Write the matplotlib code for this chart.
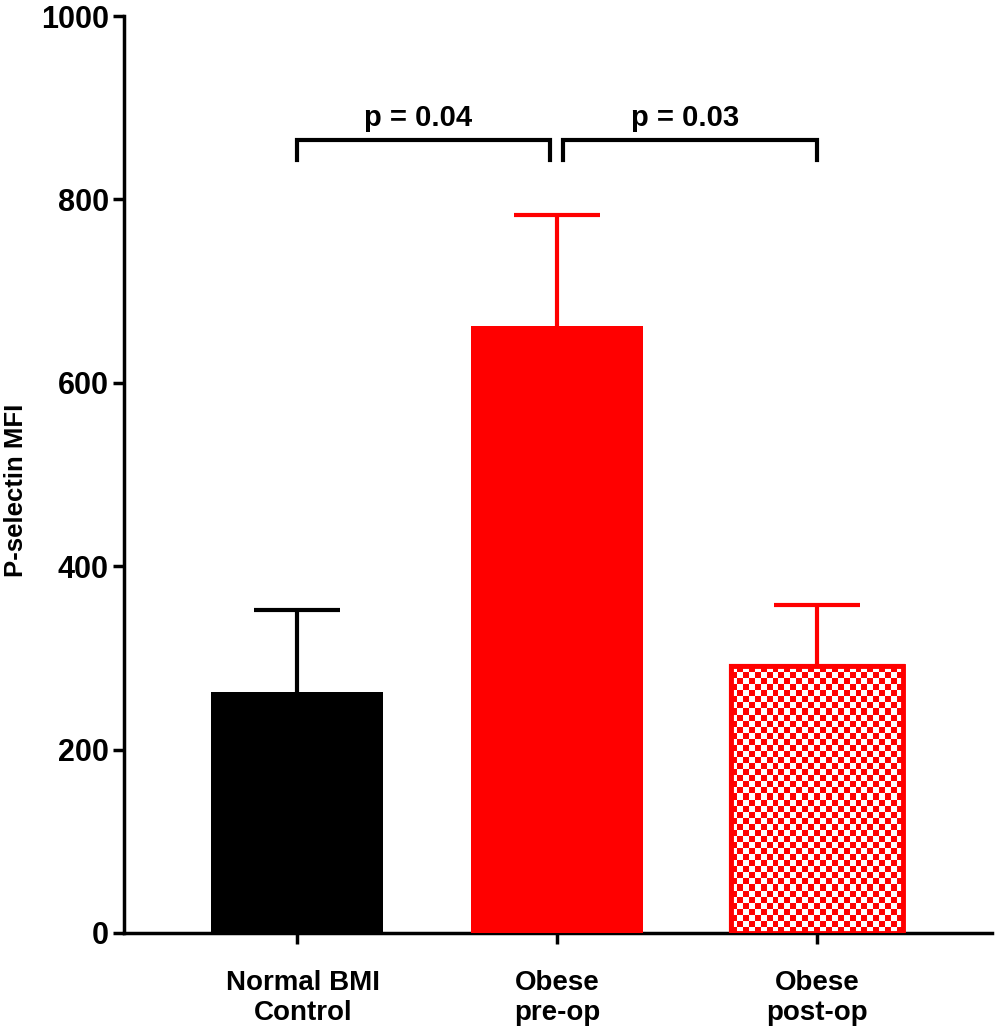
import numpy as np
import matplotlib
matplotlib.use("Agg")
import matplotlib.pyplot as plt
import matplotlib.transforms as mtransforms
from matplotlib.colors import ListedColormap

categories = ["Normal BMI\nControl", "Obese\npre-op", "Obese\npost-op"]
means = [263, 662, 291]
sem = [89, 121, 67]
bar_colors = ["#000000", "#ff0000", "#ff0000"]
yticks = [0, 200, 400, 600, 800, 1000]
comparisons = [(0, 1, "p = 0.04"), (1, 2, "p = 0.03")]

plt.rcParams['font.family'] = ['Liberation Sans', 'DejaVu Sans']
plt.rcParams['font.weight'] = 'bold'

fig = plt.figure(figsize=(9.98, 10.35), dpi=100)
ax = fig.add_axes([0.1242, 0.0986, 0.994 - 0.1242, 0.9845 - 0.0986])

x = np.arange(len(categories))
width = 0.66
cap_half = 0.166
bars = []
for i in range(len(categories)):
    if i == 2:
        b = ax.bar(x[i], means[i], width=width, color="white", edgecolor=bar_colors[i],
                   linewidth=3.0, zorder=3)
    else:
        b = ax.bar(x[i], means[i], width=width, color=bar_colors[i], edgecolor=bar_colors[i],
                   linewidth=0, zorder=3)
    bars.append(b[0])
    top = means[i] + sem[i]
    ax.plot([x[i], x[i]], [means[i], top], color=bar_colors[i], lw=3.0, zorder=2,
            solid_capstyle='butt')
    ax.plot([x[i] - cap_half, x[i] + cap_half], [top, top], color=bar_colors[i], lw=3.0,
            zorder=2, solid_capstyle='butt')

# checkered fill for the post-op bar
patch = bars[2]
x0 = x[2] - width / 2
x1 = x[2] + width / 2
sq_x = 6 / 260.0
sq_y = 6 / 0.917
nx = int(round((x1 - x0) / sq_x))
ny = int(round(means[2] / sq_y))
ii, jj = np.indices((ny, nx))
checker = ((ii + jj) % 2).astype(float)
im = ax.imshow(checker, extent=[x0, x1, 0, means[2]], origin='lower',
               cmap=ListedColormap(["#ff0000", "#ffffff"]), interpolation='nearest',
               aspect='auto', zorder=3.5)
im.set_clip_path(patch)
ax.bar(x[2], means[2], width=width, color="none", edgecolor=bar_colors[2],
       linewidth=3.5, zorder=4)

# significance brackets
y_br = 865
drop = 22
gap = 0.025
for a, b, txt in comparisons:
    xa = a + (gap if a > 0 else 0)
    xb = b - (gap if b < 2 and a == 0 else 0)
    ax.plot([xa, xa, xb, xb], [y_br - drop, y_br, y_br, y_br - drop], color='black',
            lw=3.0, solid_joinstyle='miter', zorder=5, clip_on=False)
    ax.text((xa + xb) / 2 - 0.02, y_br + 9, txt, ha='center', va='bottom',
            fontsize=21, fontweight='bold')

ax.set_xlim(-0.665, 2.673)
ax.set_ylim(0, 1000)
ax.set_yticks(yticks)
ax.set_yticklabels([str(t) for t in yticks], fontsize=22, fontweight='bold')
ax.set_xticks(x)
ax.set_xticklabels(categories, fontsize=20, fontweight='bold', linespacing=1.2)
ax.tick_params(axis='x', length=8, width=2.5, pad=19)
ax.tick_params(axis='y', length=8, width=2.5, pad=3)
# nudge first category label slightly right, as in the reference
lab0 = ax.get_xticklabels()[0]
lab0.set_transform(lab0.get_transform() +
                   mtransforms.ScaledTranslation(6 / 100, 0, fig.dpi_scale_trans))
ax.set_ylabel("P-selectin MFI", fontsize=18.5, fontweight='bold')
ax.yaxis.set_label_coords(-0.1106, 0.483)
for s in ['top', 'right']:
    ax.spines[s].set_visible(False)
for s in ['left', 'bottom']:
    ax.spines[s].set_linewidth(2.5)

fig.savefig("out.png", dpi=100)
